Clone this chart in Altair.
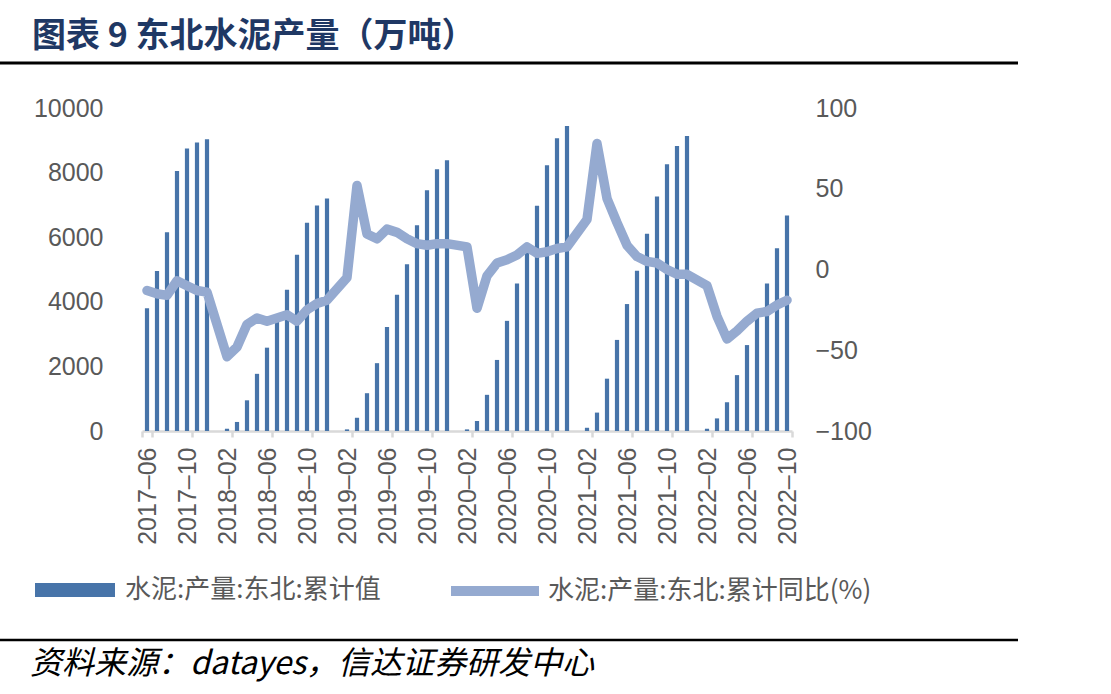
import altair as alt
import pandas as pd

# ---- data ----
years_months = [(y, m) for y in range(2017, 2023) for m in range(1, 13)]
months = [f"{y}–{m:02d}" for (y, m) in years_months]
months = months[months.index("2017–06"): months.index("2022–10") + 1]
tick_labels = months[::4]

production = [
    3800, 4950, 6150, 8050, 8750, 8930, 9030,
    None,
    70, 280, 950, 1770, 2580, 3480, 4370, 5460, 6450, 6980, 7200,
    None,
    50, 410, 1170, 2100, 3220, 4220, 5160, 6370, 7450, 8100, 8380,
    None,
    50, 310, 1120, 2200, 3410, 4570, 5800, 6970, 8230, 9060, 9440,
    None,
    100, 570, 1620, 2820, 3930, 4960, 6110, 7260, 8260, 8820, 9130,
    None,
    70, 390, 890, 1730, 2660, 3600, 4570, 5660, 6670,
]
yoy = [
    -13, -15, -16, -7, -10, -13, -14,
    None,
    -54, -48, -34, -30, -32, -30, -28, -32, -25, -21, -19,
    None,
    -5, 52, 22, 19, 25, 23, 19, 16, 15, 16, 16,
    None,
    14, -24, -4, 4, 6, 9, 14, 10, 11, 13, 14,
    None,
    31, 78, 44, 29, 15, 8, 5, 4, 0, -3, -3,
    None,
    -10, -29, -43, -38, -32, -27, -26, -22, -19,
]
bar_name = "水泥:产量:东北:累计值"
line_name = "水泥:产量:东北:累计同比(%)"
title_text = "图表 9 东北水泥产量（万吨）"
source_text = "资料来源：datayes，信达证券研发中心"

df = pd.DataFrame({"month": months, "prod": production, "yoy": yoy})
df["bar_s"] = bar_name
df["line_s"] = line_name

BAR_C = "#4774A9"
LINE_C = "#95AAD0"
LABEL_C = "#595959"

x_enc = alt.X(
    "month:N",
    sort=months,
    title=None,
    scale=alt.Scale(domain=months, paddingInner=0, paddingOuter=0),
    axis=alt.Axis(
        values=tick_labels,
        tickBand="extent",
        labelAngle=-90,
        labelFont="Liberation Sans",
        labelFontSize=25,
        labelColor=LABEL_C,
        labelPadding=10,
        tickSize=6,
        tickColor="#D9D9D9",
        tickWidth=2.5,
        domainColor="#D9D9D9",
        domainWidth=2.5,
        grid=False,
    ),
)

base = alt.Chart(df)

bars = base.mark_bar(width=alt.RelativeBandSize(0.42)).encode(
    x=x_enc,
    y=alt.Y(
        "prod:Q",
        title=None,
        scale=alt.Scale(domain=[0, 10000], nice=False),
        axis=alt.Axis(
            orient="left",
            values=[0, 2000, 4000, 6000, 8000, 10000],
            format="d",
            grid=False,
            domain=False,
            ticks=False,
            tickSize=0,
            labelPadding=39,
            labelFont="Liberation Sans",
            labelFontSize=25,
            labelColor=LABEL_C,
        ),
    ),
    color=alt.Color(
        "bar_s:N",
        scale=alt.Scale(range=[BAR_C]),
        legend=alt.Legend(
            title=None,
            orient="none",
            legendX=-107,
            legendY=442,
            symbolType="M-1,-0.175H1V0.175H-1Z",
            symbolSize=6400,
            symbolStrokeWidth=0,
            labelFont="Noto Sans CJK SC",
            labelFontSize=26,
            labelColor=LABEL_C,
            labelOffset=10,
            labelLimit=600,
            padding=0,
        ),
    ),
)

line = base.mark_line(strokeWidth=9.5, strokeCap="round", strokeJoin="round").encode(
    x=x_enc,
    y=alt.Y(
        "yoy:Q",
        title=None,
        scale=alt.Scale(domain=[-100, 100], nice=False),
        axis=alt.Axis(
            orient="right",
            values=[-100, -50, 0, 50, 100],
            format="d",
            grid=False,
            domain=False,
            ticks=False,
            tickSize=0,
            labelPadding=23,
            labelFont="Liberation Sans",
            labelFontSize=25,
            labelColor=LABEL_C,
        ),
    ),
    stroke=alt.Stroke(
        "line_s:N",
        scale=alt.Scale(range=[LINE_C]),
        legend=alt.Legend(
            title=None,
            orient="none",
            legendX=304,
            legendY=434,
            symbolType="stroke",
            symbolSize=7744,
            symbolStrokeWidth=10,
            labelFont="Noto Sans CJK SC",
            labelFontSize=26,
            labelColor=LABEL_C,
            labelOffset=4,
            labelLimit=600,
            padding=0,
        ),
    ),
).transform_filter("isValid(datum.yoy)")

one = alt.Data(values=[{"k": 1}])

top_rule = alt.Chart(one).mark_rule(color="#000000", strokeWidth=3).encode(
    x=alt.value(-142), x2=alt.value(876), y=alt.value(-45)
)
bottom_rule = alt.Chart(one).mark_rule(color="#000000", strokeWidth=2.5).encode(
    x=alt.value(-142), x2=alt.value(876), y=alt.value(532)
)
title_mark = alt.Chart(one).mark_text(
    text=title_text,
    font="Noto Sans CJK SC",
    fontSize=34,
    fontWeight="bold",
    color="#1F3864",
    align="left",
    baseline="middle",
).encode(x=alt.value(-110), y=alt.value(-71))
source_mark = alt.Chart(one).mark_text(
    text=source_text,
    font="Noto Sans CJK SC",
    fontSize=32,
    fontStyle="italic",
    color="#000000",
    align="left",
    baseline="middle",
).encode(x=alt.value(-112), y=alt.value(556))

chart = (
    alt.layer(bars, line, top_rule, bottom_rule, title_mark, source_mark)
    .resolve_scale(y="independent")
    .properties(
        width=650,
        height=323,
        autosize=alt.AutoSizeParams(type="none"),
        padding={"left": 142, "top": 108, "right": 319, "bottom": 263},
        background="#FFFFFF",
    )
    .configure_view(strokeWidth=0)
)

chart.save("out.html", embed_options={"renderer": "svg", "actions": False})
